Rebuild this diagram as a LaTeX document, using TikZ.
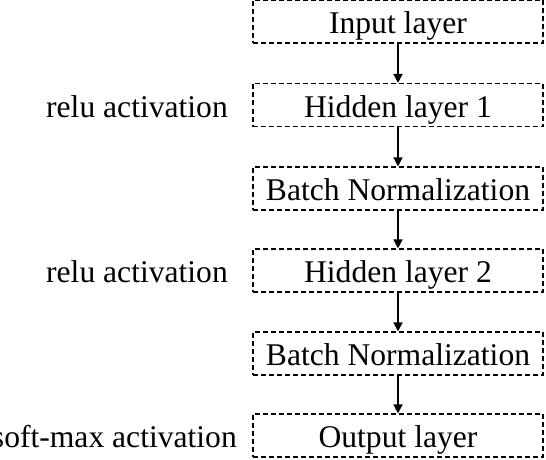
\documentclass[tikz,border=0pt]{standalone}
\usepackage{fontspec}
\setmainfont{Liberation Serif}
\usetikzlibrary{arrows.meta}
\begin{document}
\begin{tikzpicture}[x=1pt,y=1pt,
  layer/.style={draw, line width=1.1pt, dash pattern=on 5pt off 3pt, minimum width=290pt, minimum height=43pt, inner sep=0pt, text height=24pt, text depth=0pt, font=\fontsize{31.6}{36}\selectfont},
  lbl/.style={anchor=base east, inner sep=0pt, font=\fontsize{31.6}{36}\selectfont},
  flow/.style={line width=1.4pt, -{Triangle[length=9pt,width=9pt]}}]
\useasboundingbox (0,0) rectangle (546,-460);
\node[layer] (in) at (398,-21.5) {Input layer};
\node[layer] (h1) at (398,-105) {Hidden layer 1};
\node[layer] (bn1) at (398,-188.5) {Batch Normalization};
\node[layer] (h2) at (398,-270.5) {Hidden layer 2};
\node[layer] (bn2) at (398,-353.5) {Batch Normalization};
\node[layer] (out) at (398,-435.5) {Output layer};
\node[lbl] (l1) at (228,0 |- h1.base) {relu activation};
\node[lbl] (l2) at (228,0 |- h2.base) {relu activation};
\node[lbl] (l3) at (237,0 |- out.base) {soft-max activation};
\draw[flow] (in) -- (h1);
\draw[flow] (h1) -- (bn1);
\draw[flow] (bn1) -- (h2);
\draw[flow] (h2) -- (bn2);
\draw[flow] (bn2) -- (out);
\end{tikzpicture}
\end{document}
